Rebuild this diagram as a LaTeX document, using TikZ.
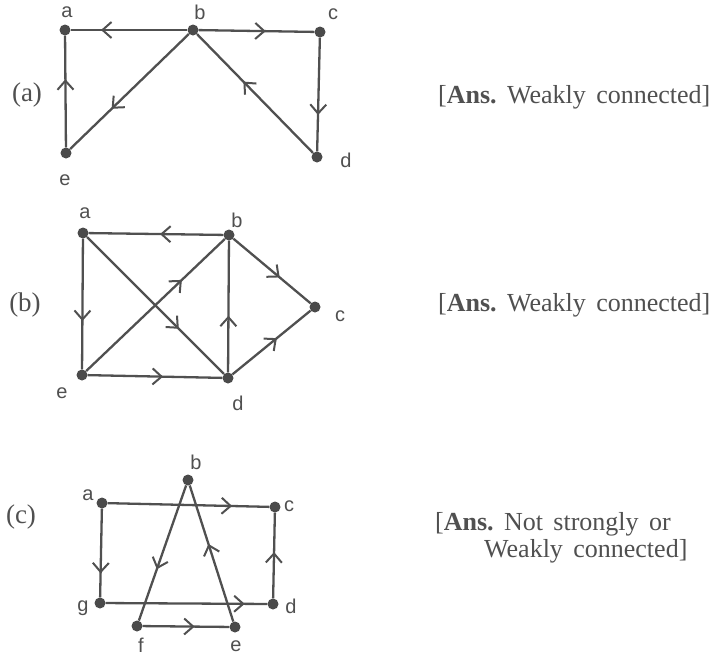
\documentclass[tikz,border=0pt]{standalone}
\usepackage{fontspec}
\setmainfont{Liberation Serif}
\newfontfamily\lblfont{Liberation Sans}
\usetikzlibrary{arrows.meta,decorations.markings}
\definecolor{ink}{HTML}{505050}
\definecolor{dotc}{HTML}{4a4a4a}
\newcommand{\gp}{\hspace{0.4em}}
\tikzset{
  vtx/.style={circle,fill=dotc,inner sep=0pt,minimum size=11pt},
  lbl/.style={font=\lblfont\fontsize{20}{22}\selectfont,text=ink,inner sep=0pt},
  ln/.style={draw=ink,line width=2.3pt},
  arrowat/.style={postaction={decorate},decoration={markings,mark=at position #1 with {\arrow[ink,line width=2pt]{Straight Barb[length=9pt,width=16pt]}}}},
  part/.style={font=\fontsize{27}{30}\selectfont,text=ink,inner sep=0pt},
  ans/.style={font=\fontsize{26}{30}\selectfont,text=ink,inner sep=0pt,anchor=west},
}
\begin{document}
\begin{tikzpicture}[x=1pt,y=-1pt]
\useasboundingbox[fill=white] (0,0) rectangle (720,662);
% ---------- (a)
\node[part] (pa) at (27,95) {(a)};
\node[vtx] (aa) at (65,30) {};
\node[vtx] (ab) at (193,30) {};
\node[vtx] (ac) at (320,32) {};
\node[vtx] (ad) at (317,157) {};
\node[vtx] (ae) at (66,153) {};
\node[lbl] (laa) at (67,12) {a};
\node[lbl] (lab) at (200,12) {b};
\node[lbl] (lac) at (333,14) {c};
\node[lbl] (lad) at (346,160) {d};
\node[lbl] (lae) at (65,180) {e};
\draw[ln,arrowat=0.74] (ab) -- (aa);
\draw[ln,arrowat=0.58] (ab) -- (ac);
\draw[ln,arrowat=0.68] (ac) -- (ad);
\draw[ln,arrowat=0.6] (ad) -- (ab);
\draw[ln,arrowat=0.65] (ab) -- (ae);
\draw[ln,arrowat=0.61] (ae) -- (aa);
\node[ans] (ansa) at (438,97) {[\textbf{Ans.}\gp Weakly\gp connected]};
% ---------- (b)
\node[part] (pb) at (25,305) {(b)};
\node[vtx] (ba) at (83,233) {};
\node[vtx] (bb) at (229,235) {};
\node[vtx] (bc) at (315,307) {};
\node[vtx] (bd) at (228,378) {};
\node[vtx] (be) at (82,375) {};
\node[lbl] (lba) at (85,213) {a};
\node[lbl] (lbb) at (237,220) {b};
\node[lbl] (lbc) at (340,316) {c};
\node[lbl] (lbd) at (238,403) {d};
\node[lbl] (lbe) at (62,393) {e};
\draw[ln,arrowat=0.47] (bb) -- (ba);
\draw[ln,arrowat=0.63] (ba) -- (be);
\draw[ln,arrowat=0.67] (ba) -- (bd);
\draw[ln,arrowat=0.69] (be) -- (bb);
\draw[ln,arrowat=0.56] (be) -- (bd);
\draw[ln,arrowat=0.43] (bd) -- (bb);
\draw[ln,arrowat=0.6] (bb) -- (bc);
\draw[ln,arrowat=0.57] (bd) -- (bc);
\node[ans] (ansb) at (438,305) {[\textbf{Ans.}\gp Weakly\gp connected]};
% ---------- (c)
\node[part] (pc) at (21,517) {(c)};
\node[vtx] (ca) at (102,503) {};
\node[vtx] (cb) at (188,480) {};
\node[vtx] (cc) at (275,507) {};
\node[vtx] (cd) at (273,604) {};
\node[vtx] (cg) at (100,603) {};
\node[vtx] (cf) at (137,626) {};
\node[vtx] (ce) at (235,627) {};
\node[lbl] (lca) at (88,495) {a};
\node[lbl] (lcb) at (196,462) {b};
\node[lbl] (lcc) at (289,506) {c};
\node[lbl] (lcd) at (291,606) {d};
\node[lbl] (lcg) at (83,608) {g};
\node[lbl] (lcf) at (141,645) {f};
\node[lbl] (lce) at (236,646) {e};
\draw[ln,arrowat=0.77] (ca) -- (cc);
\draw[ln,arrowat=0.73] (ca) -- (cg);
\draw[ln,arrowat=0.86] (cg) -- (cd);
\draw[ln,arrowat=0.54] (cd) -- (cc);
\draw[ln,arrowat=0.62] (cb) -- (cf);
\draw[ln,arrowat=0.57] (ce) -- (cb);
\draw[ln,arrowat=0.6] (cf) -- (ce);
\node[ans] (ansc1) at (435,524) {[\textbf{Ans.}\gp Not\gp strongly\gp or};
\node[ans] (ansc2) at (484,551) {Weakly\gp connected]};
\end{tikzpicture}
\end{document}
